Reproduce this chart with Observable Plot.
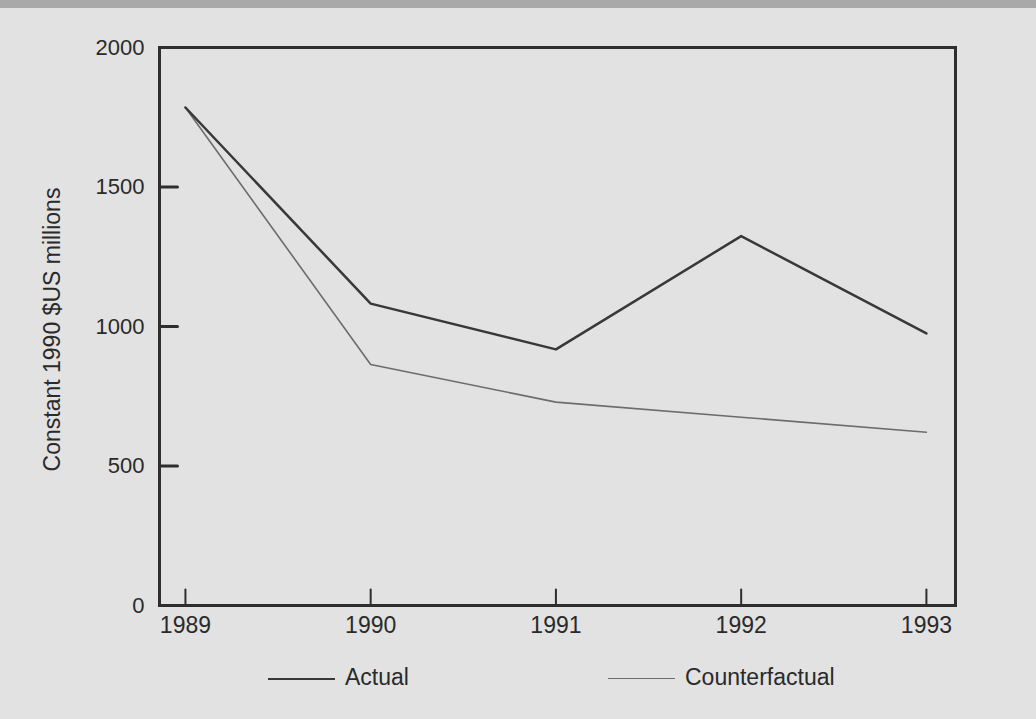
<!DOCTYPE html>
<html><head><meta charset="utf-8">
<script src="https://cdn.jsdelivr.net/npm/d3@7"></script>
<script src="https://cdn.jsdelivr.net/npm/@observablehq/plot@0.6"></script>
<style>
html,body{margin:0;padding:0;background:#e2e2e2;width:1036px;height:719px;overflow:hidden;font-family:"Liberation Sans",Arial,sans-serif;color:#2a2a2a}
#band{position:absolute;left:0;top:0;width:1036px;height:8px;background:#a9a9a9}
#chart{position:absolute;left:0;top:0}
#legend{position:absolute;left:0;top:662px;width:1036px;height:30px;font-size:23px}
.item{position:absolute;top:0;display:flex;align-items:center;height:30px}
.swatch{width:67px;height:0;border-top-style:solid;margin-right:10px;margin-top:3px}
</style></head><body>
<div id="band"></div><div id="chart"></div><div id="legend"></div>
<script>
const years = [1989, 1990, 1991, 1992, 1993];
const actual = [1785, 1082, 918, 1324, 975];
const counterfactual = [1785, 864, 729, 675, 621];
const seriesNames = ["Actual", "Counterfactual"];
const seriesColors = ["#383838", "#6c6c6c"];
const seriesWidths = [2.5, 1.6];
const yTicks = [0, 500, 1000, 1500, 2000];
const yLabel = "Constant 1990 $US millions";

const rowsActual = years.map((y, i) => ({year: y, value: actual[i]}));
const rowsCounter = years.map((y, i) => ({year: y, value: counterfactual[i]}));

// straight tick shape for inward-pointing ticks
const tickShape = {draw(context, l) { context.moveTo(0, 0); context.lineTo(0, -l); }};

const font = '"Liberation Sans", Arial, sans-serif';
const plot = Plot.plot({
  width: 1036, height: 640,
  marginLeft: 159, marginRight: 81, marginTop: 47, marginBottom: 35,
  style: {background: "transparent", fontFamily: font, fontSize: "23px", color: "#2a2a2a"},
  x: {domain: [1988.86, 1993.157]},
  y: {domain: [0, 2000]},
  marks: [
    Plot.vector(years, {x: d => d, frameAnchor: "bottom", length: 16, rotate: 0, anchor: "start", shape: tickShape, stroke: "#2e2e2e", strokeWidth: 2}),
    Plot.vector(yTicks, {y: d => d, frameAnchor: "left", length: 18, rotate: 90, anchor: "start", shape: tickShape, stroke: "#2e2e2e", strokeWidth: 3}),
    Plot.axisX(years, {tickSize: 0, tickPadding: 11, tickFormat: d => String(d), label: null, fontSize: 23, fill: "#2a2a2a"}),
    Plot.axisY(yTicks, {tickSize: 0, tickPadding: 15, tickFormat: d => String(d), label: null, fontSize: 22, fill: "#2a2a2a"}),
    Plot.lineY(rowsCounter, {x: "year", y: "value", stroke: seriesColors[1], strokeWidth: seriesWidths[1]}),
    Plot.lineY(rowsActual, {x: "year", y: "value", stroke: seriesColors[0], strokeWidth: seriesWidths[0]}),
    Plot.frame({stroke: "#2e2e2e", strokeWidth: 3}),
    Plot.text([yLabel], {text: d => d, frameAnchor: "left", textAnchor: "middle", rotate: -90, dx: -107, dy: 3, fontSize: 23, fill: "#2a2a2a"})
  ]
});
document.getElementById("chart").appendChild(plot);

const legend = document.getElementById("legend");
const legendLeft = [268, 608];
seriesNames.forEach((name, i) => {
  const item = document.createElement("div");
  item.className = "item";
  item.style.left = legendLeft[i] + "px";
  const sw = document.createElement("span");
  sw.className = "swatch";
  sw.style.borderTopColor = seriesColors[i];
  sw.style.borderTopWidth = seriesWidths[i] + "px";
  const t = document.createElement("span");
  t.textContent = name;
  item.appendChild(sw);
  item.appendChild(t);
  legend.appendChild(item);
});
</script>
</body></html>
